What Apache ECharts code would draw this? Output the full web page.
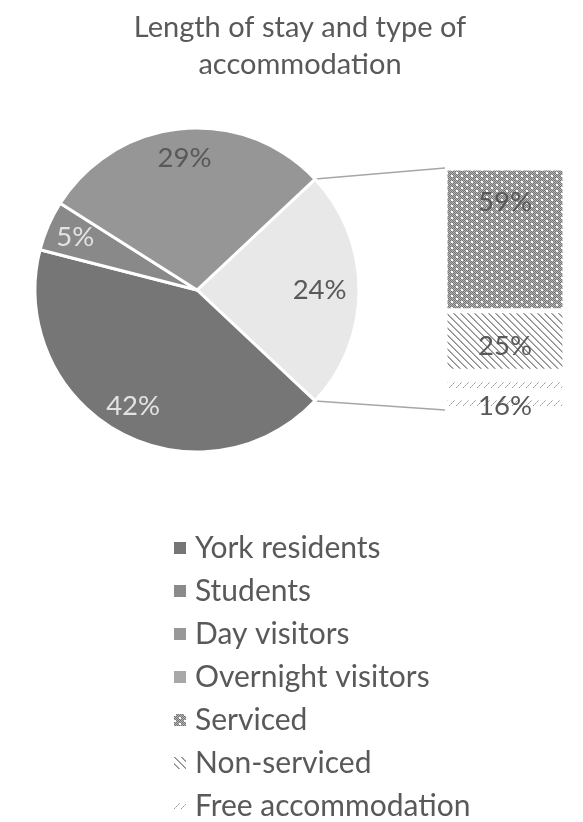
<!DOCTYPE html>
<html>
<head>
<meta charset="utf-8">
<script src="https://cdn.jsdelivr.net/npm/echarts@6/dist/echarts.min.js"></script>
<style>
  html, body { margin: 0; padding: 0; background: #fff; }
  #chart { width: 583px; height: 822px; }
</style>
</head>
<body>
<div id="chart"></div>
<script>
// Main pie: who the visitors are (shares in %)
const pieCategories = ['York residents', 'Students', 'Day visitors', 'Overnight visitors'];
const pieValues = [42, 5, 29, 24];
const pieColors = ['#767676', '#898989', '#969696', '#e8e8e8'];
const pieLegendColors = ['#767676', '#8b8b8b', '#989898', '#a8a8a8'];
const pieLabelColors = ['#e2e2e2', '#e2e2e2', '#595959', '#595959'];

// Breakdown of overnight visitors by type of accommodation (shares in %)
const barCategories = ['Serviced', 'Non-serviced', 'Free accommodation'];
const barValues = [59, 25, 16];

// Layout
const FONT = 'Lato, "Open Sans", sans-serif';
const PIE_CX = 197, PIE_CY = 290, PIE_R = 162;
const BAR_LEFT = 445, BAR_TOP = 168, BAR_W = 120, BAR_H = 242;

// Fill patterns for the accommodation bar
function makePattern(w, h, draw) {
  const c = document.createElement('canvas');
  c.width = w; c.height = h;
  const ctx = c.getContext('2d');
  ctx.fillStyle = '#ffffff';
  ctx.fillRect(0, 0, w, h);
  draw(ctx, w, h);
  return { image: c, repeat: 'repeat' };
}
const px = (ctx, x, y, col, s) => { ctx.fillStyle = col; ctx.fillRect(x, y, s || 1, s || 1); };

const servicedFill = makePattern(10, 6, (ctx, w, h) => {
  for (let y = 0; y < h; y++)
    for (let x = 0; x < w; x++)
      px(ctx, x, y, (x + y) % 2 === 0 ? '#767676' : '#b4b4b4');
  px(ctx, 1, 1, '#ffffff', 2);
  px(ctx, 6, 4, '#ffffff', 2);
});
const nonServicedFill = makePattern(7, 7, (ctx, w) => {
  for (let i = 0; i < w; i++) {
    px(ctx, i, i, '#8a8a8a');
    px(ctx, (i + 1) % w, i, '#b0b0b0');
  }
});
const freeFill = makePattern(7, 18, (ctx) => {
  for (let i = 0; i < 6; i += 1) {
    px(ctx, 1 + i, 9 - i, i % 2 === 0 ? '#9a9a9a' : '#c4c4c4');
  }
});
const barFills = [servicedFill, nonServicedFill, freeFill];
const barLabelPos = [
  { position: 'insideTop', distance: 20 },
  { position: 'inside', offset: [0, 5] },
  { position: 'inside', offset: [0, 15] }
];

// Pie is drawn clockwise starting at the upper edge of the overnight slice,
// so that slice faces the bar on the right.
const overIdx = pieCategories.indexOf('Overnight visitors');
const halfAngle = pieValues[overIdx] / 100 * 180;
const pieOrder = [overIdx].concat(pieCategories.map((_, i) => i).filter(i => i !== overIdx));
const pieData = pieOrder.map(i => ({
  name: pieCategories[i],
  value: pieValues[i],
  itemStyle: { color: pieColors[i] }
}));
const pieLabelData = pieOrder.map(i => ({
  name: pieCategories[i],
  value: pieValues[i],
  label: i === overIdx
    ? { color: pieLabelColors[i], padding: [0, 20, 0, 0] }
    : { color: pieLabelColors[i] }
}));

// Connector lines from the overnight slice edges to the bar corners
const rad = halfAngle * Math.PI / 180;
const topEdge = [PIE_CX + PIE_R * Math.cos(rad), PIE_CY - PIE_R * Math.sin(rad)];
const botEdge = [PIE_CX + PIE_R * Math.cos(rad), PIE_CY + PIE_R * Math.sin(rad)];

// Bars stack bottom-up, so the last category goes first
const barSeries = barCategories.map((name, i) => ({
  name: name,
  type: 'bar',
  stack: 'acc',
  barWidth: '100%',
  data: [barValues[i]],
  itemStyle: { color: barFills[i], borderColor: '#ffffff', borderWidth: 2.5 },
  label: Object.assign({
    show: true,
    formatter: '{c}%',
    color: '#595959',
    fontSize: 27.5,
    fontFamily: FONT
  }, barLabelPos[i]),
  silent: true
})).reverse();

const chart = echarts.init(document.getElementById('chart'), null, { renderer: 'canvas' });
chart.setOption({
  backgroundColor: '#ffffff',
  animation: false,
  title: {
    text: 'Length of stay and type of\naccommodation',
    left: 295,
    top: 4,
    textAlign: 'center',
    textStyle: {
      color: '#595959',
      fontSize: 29,
      fontWeight: 'normal',
      fontFamily: FONT,
      lineHeight: 37
    }
  },
  legend: {
    orient: 'vertical',
    left: 172,
    top: 533,
    height: 300,
    padding: 0,
    icon: 'rect',
    itemWidth: 14,
    itemHeight: 14,
    itemGap: 13,
    selectedMode: false,
    textStyle: { color: '#595959', fontSize: 30, lineHeight: 30, fontFamily: FONT, padding: [0, 0, 0, 3] },
    data: pieCategories.map((n, i) => ({ name: n, itemStyle: { color: pieLegendColors[i] } }))
      .concat(barCategories.map((n, i) => ({ name: n, itemStyle: { color: barFills[i] } })))
  },
  grid: { left: BAR_LEFT, top: BAR_TOP, width: BAR_W, height: BAR_H },
  xAxis: { type: 'category', data: ['Overnight visitors'], show: false },
  yAxis: { type: 'value', min: 0, max: 100, show: false },
  series: [
    {
      name: 'Visitors',
      type: 'pie',
      center: [PIE_CX, PIE_CY],
      radius: PIE_R,
      startAngle: halfAngle,
      clockwise: true,
      label: { show: false },
      labelLine: { show: false },
      itemStyle: { borderColor: '#ffffff', borderWidth: 3 },
      silent: true,
      data: pieData
    },
    {
      // transparent ring that places the percentage labels at 80% of the radius
      name: 'VisitorLabels',
      type: 'pie',
      center: [PIE_CX, PIE_CY],
      radius: [PIE_R * 0.6, PIE_R],
      startAngle: halfAngle,
      clockwise: true,
      legendHoverLink: false,
      itemStyle: { color: 'rgba(0,0,0,0)' },
      label: { show: true, position: 'inside', formatter: '{c}%', fontSize: 27.5, fontFamily: FONT },
      labelLine: { show: false },
      silent: true,
      data: pieLabelData
    }
  ].concat(barSeries),
  graphic: [
    { type: 'line', shape: { x1: topEdge[0], y1: topEdge[1], x2: BAR_LEFT, y2: BAR_TOP }, style: { stroke: '#a6a6a6', lineWidth: 1.5 } },
    { type: 'line', shape: { x1: botEdge[0], y1: botEdge[1], x2: BAR_LEFT, y2: BAR_TOP + BAR_H }, style: { stroke: '#a6a6a6', lineWidth: 1.5 } }
  ]
});
</script>
</body>
</html>
